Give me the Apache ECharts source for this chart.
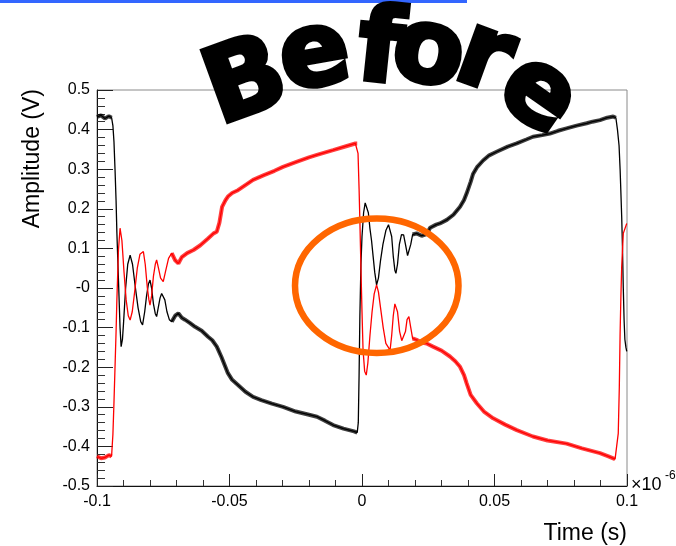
<!DOCTYPE html>
<html>
<head>
<meta charset="utf-8">
<script src="https://cdn.jsdelivr.net/npm/echarts@6/dist/echarts.min.js"></script>
<style>
  html, body { margin: 0; padding: 0; background: #ffffff; }
  #chart { width: 676px; height: 546px; }
</style>
</head>
<body>
<div id="chart"></div>
<script>
// Axis tick labels (time in units of 1e-6 s, amplitude in V)
const xTickLabels = ['-0.1', '-0.05', '0', '0.05', '0.1'];
const yTickLabels = ['-0.5', '-0.4', '-0.3', '-0.2', '-0.1', '-0', '0.1', '0.2', '0.3', '0.4', '0.5'];

// Scope trace, channel A (black): [time, amplitude]
const blackTrace = [
  [-0.1, 0.432], [-0.0985, 0.436], [-0.097, 0.428], [-0.0955, 0.434], [-0.0945, 0.430],
  [-0.0940, 0.41], [-0.0936, 0.37], [-0.0932, 0.30], [-0.0928, 0.22], [-0.0925, 0.14],
  [-0.0921, 0.06], [-0.0917, -0.02], [-0.0913, -0.10], [-0.0909, -0.148], [-0.0904, -0.13],
  [-0.0900, -0.09], [-0.0892, 0.0], [-0.0884, 0.06], [-0.0875, 0.083], [-0.0866, 0.06],
  [-0.0855, 0.0], [-0.0845, -0.05], [-0.0835, -0.085], [-0.0828, -0.093], [-0.0820, -0.06],
  [-0.0813, -0.02], [-0.0806, 0.01], [-0.0800, 0.02], [-0.0794, 0.0], [-0.0787, -0.04],
  [-0.0780, -0.065], [-0.0775, -0.072], [-0.0769, -0.05], [-0.0762, -0.025], [-0.0756, -0.014],
  [-0.0750, -0.013], [-0.0744, -0.03], [-0.0736, -0.06], [-0.0727, -0.08], [-0.0718, -0.085],
  [-0.0705, -0.07], [-0.0693, -0.064], [-0.0680, -0.075], [-0.0668, -0.08], [-0.0650, -0.088],
  [-0.0630, -0.098], [-0.0605, -0.108], [-0.0581, -0.123], [-0.0565, -0.132], [-0.0548, -0.148],
  [-0.0530, -0.175], [-0.0515, -0.200], [-0.0506, -0.215], [-0.0490, -0.232], [-0.0468, -0.245],
  [-0.0440, -0.262], [-0.0411, -0.275], [-0.0380, -0.283], [-0.0340, -0.292], [-0.0298, -0.300],
  [-0.0250, -0.312], [-0.0200, -0.320], [-0.0170, -0.325], [-0.0140, -0.335], [-0.0109, -0.346],
  [-0.0070, -0.355], [-0.0030, -0.362], [-0.0018, -0.365], [-0.0014, -0.34], [-0.0011, -0.22],
  [-0.0008, -0.07], [-0.0004, 0.06], [0.0, 0.13], [0.0006, 0.19], [0.0012, 0.215],
  [0.0018, 0.22], [0.0024, 0.19], [0.0030, 0.15], [0.0036, 0.12], [0.0042, 0.08],
  [0.0048, 0.04], [0.0055, 0.008], [0.0062, 0.025], [0.0070, 0.07], [0.0079, 0.11],
  [0.0090, 0.145], [0.0100, 0.16], [0.0106, 0.163], [0.0112, 0.13], [0.0118, 0.08],
  [0.0124, 0.045], [0.0128, 0.037], [0.0134, 0.06], [0.0141, 0.11], [0.0149, 0.135],
  [0.0157, 0.134], [0.0164, 0.11], [0.0172, 0.082], [0.0177, 0.079], [0.0184, 0.11],
  [0.0191, 0.135], [0.0206, 0.138], [0.0225, 0.132], [0.0244, 0.136], [0.0257, 0.152],
  [0.0280, 0.160], [0.0294, 0.163], [0.0320, 0.172], [0.0345, 0.185], [0.0370, 0.205],
  [0.0385, 0.222], [0.0395, 0.239], [0.0410, 0.268], [0.0419, 0.288], [0.0435, 0.306],
  [0.0457, 0.322], [0.0480, 0.335], [0.0508, 0.344], [0.0550, 0.357], [0.0584, 0.365],
  [0.0620, 0.375], [0.0645, 0.382], [0.0680, 0.386], [0.0709, 0.390], [0.0740, 0.397],
  [0.0772, 0.403], [0.0810, 0.410], [0.0848, 0.416], [0.0870, 0.420], [0.0898, 0.424],
  [0.0925, 0.430], [0.0948, 0.433], [0.0958, 0.430], [0.0964, 0.40], [0.0970, 0.36],
  [0.0974, 0.30], [0.0977, 0.24], [0.0980, 0.18], [0.0983, 0.10], [0.0986, 0.00],
  [0.0989, -0.08], [0.0992, -0.13], [0.0996, -0.15], [0.0999, -0.16]
];

// Scope trace, channel B (red): [time, amplitude]
const redTrace = [
  [-0.1, -0.425], [-0.0985, -0.430], [-0.097, -0.428], [-0.0955, -0.422], [-0.0945, -0.425],
  [-0.0940, -0.37], [-0.0936, -0.29], [-0.0932, -0.20], [-0.0928, -0.11], [-0.0925, -0.03],
  [-0.0919, 0.096], [-0.0913, 0.151], [-0.0906, 0.12], [-0.0898, 0.04], [-0.0890, -0.03],
  [-0.0882, -0.07], [-0.0875, -0.081], [-0.0867, -0.06], [-0.0858, -0.01], [-0.0848, 0.05],
  [-0.0838, 0.085], [-0.0825, 0.092], [-0.0818, 0.06], [-0.0810, 0.0], [-0.0804, -0.03],
  [-0.0800, -0.043], [-0.0794, -0.02], [-0.0787, 0.03], [-0.0780, 0.06], [-0.0775, 0.071],
  [-0.0768, 0.05], [-0.0760, 0.025], [-0.0750, 0.016], [-0.0742, 0.04], [-0.0730, 0.075],
  [-0.0718, 0.088], [-0.0705, 0.07], [-0.0693, 0.062], [-0.0680, 0.078], [-0.0660, 0.088],
  [-0.0636, 0.096], [-0.0610, 0.108], [-0.0581, 0.125], [-0.0560, 0.138], [-0.0548, 0.142],
  [-0.0538, 0.165], [-0.0528, 0.205], [-0.0515, 0.222], [-0.0506, 0.231], [-0.0490, 0.240],
  [-0.0468, 0.247], [-0.0440, 0.260], [-0.0411, 0.273], [-0.0370, 0.285], [-0.0330, 0.296],
  [-0.0298, 0.306], [-0.0250, 0.318], [-0.0200, 0.330], [-0.0170, 0.336], [-0.0109, 0.348],
  [-0.0060, 0.358], [-0.0025, 0.365], [-0.0018, 0.365], [-0.0015, 0.34], [-0.0011, 0.25],
  [-0.0008, 0.17], [-0.0004, 0.05], [0.0, -0.06], [0.0004, -0.157], [0.0010, -0.21],
  [0.0016, -0.22], [0.0022, -0.19], [0.0030, -0.12], [0.0038, -0.06], [0.0046, -0.015],
  [0.0055, 0.008], [0.0062, -0.01], [0.0070, -0.05], [0.0080, -0.10], [0.0090, -0.14],
  [0.0106, -0.157], [0.0112, -0.12], [0.0118, -0.07], [0.0124, -0.04], [0.0128, -0.035],
  [0.0134, -0.06], [0.0142, -0.11], [0.0150, -0.133], [0.0157, -0.136], [0.0164, -0.11],
  [0.0170, -0.08], [0.0177, -0.072], [0.0184, -0.10], [0.0191, -0.127], [0.0206, -0.131],
  [0.0225, -0.138], [0.0244, -0.140], [0.0268, -0.148], [0.0300, -0.158], [0.0332, -0.173],
  [0.0352, -0.185], [0.0370, -0.199], [0.0385, -0.220], [0.0395, -0.241], [0.0410, -0.270],
  [0.0433, -0.291], [0.0460, -0.312], [0.0495, -0.329], [0.0540, -0.345], [0.0584, -0.359],
  [0.0645, -0.375], [0.0700, -0.385], [0.0772, -0.393], [0.0830, -0.405], [0.0898, -0.417],
  [0.0930, -0.425], [0.0955, -0.432], [0.0961, -0.430], [0.0967, -0.367], [0.0971, -0.25],
  [0.0974, -0.114], [0.0977, -0.02], [0.0980, 0.054], [0.0986, 0.138], [0.0999, 0.163]
];

// Time windows where the traces sit on their noisy plateaus
const noisyWindows = [[-0.1, -0.0945], [-0.0725, -0.0018], [0.019, 0.0958]];

// Highlighted ringing region: centre and half-axes in data units
const ringCentre = [0.00557, 0.0057];
const ringHalfAxes = [0.03085, 0.1698];

const TICK_FONT = 'Liberation Sans, Arial, Helvetica, sans-serif';
const chart = echarts.init(document.getElementById('chart'), null, { renderer: 'canvas' });

// Wider, semi-opaque stroke under the plateau sections to show the noise band
function bandSeries(trace, color) {
  return noisyWindows.map(([a, b]) => ({
    type: 'line',
    data: trace.filter(p => p[0] >= a && p[0] <= b),
    showSymbol: false,
    symbol: 'none',
    silent: true,
    lineStyle: { color: color, width: 4, opacity: 0.75 },
    z: 2
  }));
}

function coreSeries(trace, color, z) {
  return {
    type: 'line',
    data: trace,
    showSymbol: false,
    symbol: 'none',
    silent: true,
    lineStyle: { color: color, width: 1.3 },
    z: z
  };
}

const series = [
  ...bandSeries(blackTrace, '#000000'),
  coreSeries(blackTrace, '#000000', 3),
  ...bandSeries(redTrace, '#ff0000'),
  coreSeries(redTrace, '#ff0000', 4)
];

// Arched "Before" lettering: [centre x, centre y, rotation in degrees]
const beforeWord = ['B', 'e', 'f', 'o', 'r', 'e'];
const letterLayout = [
  [247, 86, 20], [315, 58, 10], [380, 54, -6], [428, 55, -10], [484, 60, -20], [537, 96, -35]
];

const letterGraphics = beforeWord.map((ch, i) => ({
  type: 'text',
  x: letterLayout[i][0],
  y: letterLayout[i][1],
  rotation: letterLayout[i][2] * Math.PI / 180,
  scaleX: 1.2,
  scaleY: 1.2,
  z: 100,
  style: {
    text: ch,
    fontFamily: 'DejaVu Sans',
    fontWeight: 'bold',
    fontSize: 86,
    fill: '#000000',
    stroke: '#000000',
    lineWidth: 4,
    lineJoin: 'round',
    textAlign: 'center',
    textVerticalAlign: 'middle',
    align: 'center',
    verticalAlign: 'middle'
  }
}));

const option = {
  animation: false,
  backgroundColor: '#ffffff',
  grid: {
    left: 97, right: 49, top: 90, bottom: 60,
    show: true, borderColor: '#8a8a8a', borderWidth: 1, backgroundColor: 'transparent'
  },
  xAxis: {
    type: 'value',
    min: -0.1, max: 0.1, interval: 0.05,
    axisLine: { show: true, onZero: false, lineStyle: { color: '#111', width: 1 } },
    axisTick: { show: true, inside: true, length: 12, lineStyle: { color: '#222', width: 1 } },
    minorTick: { show: true, splitNumber: 5, length: 6, lineStyle: { color: '#333', width: 1 } },
    splitLine: { show: false },
    axisLabel: {
      color: '#000', fontSize: 16, fontFamily: TICK_FONT, margin: 8,
      showMinLabel: true, showMaxLabel: true,
      formatter: v => xTickLabels[Math.round((v + 0.1) / 0.05)]
    }
  },
  yAxis: {
    type: 'value',
    min: -0.5, max: 0.5, interval: 0.1,
    axisLine: { show: true, onZero: false, lineStyle: { color: '#111', width: 1 } },
    axisTick: { show: true, inside: true, length: 16, lineStyle: { color: '#222', width: 1 } },
    minorTick: { show: true, splitNumber: 5, length: 8, lineStyle: { color: '#333', width: 1 } },
    splitLine: { show: false },
    axisLabel: {
      color: '#000', fontSize: 16, fontFamily: TICK_FONT, margin: 7,
      showMinLabel: true, showMaxLabel: true,
      formatter: v => yTickLabels[Math.round((v + 0.5) / 0.1)]
    }
  },
  series: series
};

chart.setOption(option);

// Place the ring using the axis scales
const c = chart.convertToPixel({ gridIndex: 0 }, ringCentre);
const edge = chart.convertToPixel({ gridIndex: 0 }, [ringCentre[0] + ringHalfAxes[0], ringCentre[1] + ringHalfAxes[1]]);

chart.setOption({
  graphic: [
    {
      type: 'rect', left: 0, top: 0, z: 50,
      shape: { x: 0, y: 0, width: 467, height: 3 },
      style: { fill: '#3366ff' }
    },
    {
      type: 'ellipse', z: 60,
      shape: { cx: c[0], cy: c[1], rx: Math.abs(edge[0] - c[0]), ry: Math.abs(edge[1] - c[1]) },
      style: { fill: 'none', stroke: '#ff6600', lineWidth: 6.5 }
    },
    {
      type: 'text', x: 33, y: 89, rotation: Math.PI / 2, z: 40,
      style: {
        text: 'Amplitude (V)', fontFamily: TICK_FONT, fontSize: 23, fill: '#000',
        textAlign: 'right', textVerticalAlign: 'middle', align: 'right', verticalAlign: 'middle'
      }
    },
    {
      type: 'text', x: 627, y: 534, z: 40,
      style: {
        text: 'Time (s)', fontFamily: TICK_FONT, fontSize: 23, fill: '#000',
        textAlign: 'right', textVerticalAlign: 'middle', align: 'right', verticalAlign: 'middle'
      }
    },
    {
      type: 'text', x: 631, y: 485, z: 40,
      style: {
        text: '×10', fontFamily: TICK_FONT, fontSize: 18, fill: '#000',
        textAlign: 'left', textVerticalAlign: 'middle', align: 'left', verticalAlign: 'middle'
      }
    },
    {
      type: 'text', x: 665, y: 476, z: 40,
      style: {
        text: '-6', fontFamily: TICK_FONT, fontSize: 12, fill: '#000',
        textAlign: 'left', textVerticalAlign: 'middle', align: 'left', verticalAlign: 'middle'
      }
    },
    ...letterGraphics
  ]
});
</script>
</body>
</html>
